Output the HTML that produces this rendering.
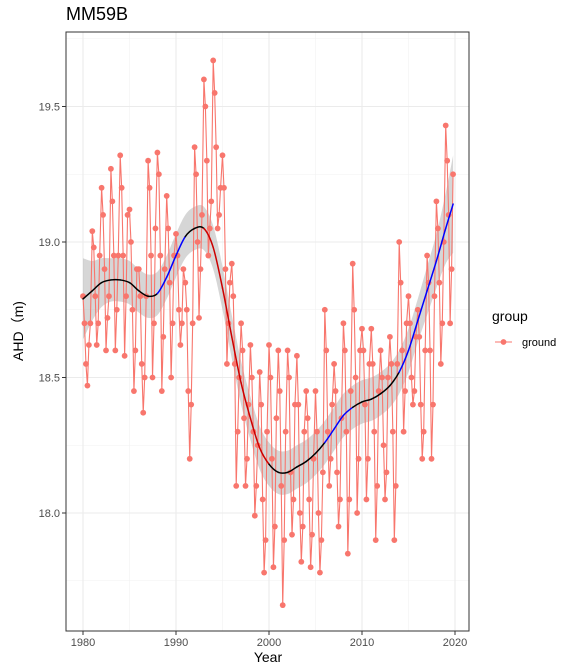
<!DOCTYPE html>
<html><head><meta charset="utf-8"><style>
body{margin:0;background:#fff;}
svg{display:block;font-family:"Liberation Sans","Noto Sans CJK SC",sans-serif;}
</style></head><body>
<svg id="c" width="576" height="672"></svg>
<script>
const years=[1980,1981,1982,1983,1984,1985,1986,1987,1988,1989,1990,1991,1992,1993,1994,1995,1996,1997,1998,1999,2000,2001,2002,2003,2004,2005,2006,2007,2008,2009,2010,2011,2012,2013,2014,2015,2016,2017,2018,2019];
const groundValues=[
18.80,18.70,18.55,18.47,18.62,18.70, 19.04,18.98,18.80,18.62,18.70,18.95, 19.20,19.10,18.90,18.60,18.72,18.80,
19.27,19.15,18.95,18.60,18.75,18.95, 19.32,19.20,18.95,18.58,18.80,19.10, 19.12,19.00,18.75,18.45,18.60,18.90,
18.90,18.80,18.55,18.37,18.50,18.80, 19.30,19.20,18.95,18.50,18.70,19.05, 19.33,19.25,18.95,18.45,18.65,18.90,
19.17,19.05,18.85,18.50,18.70,18.95, 19.03,18.95,18.75,18.62,18.70,18.90, 18.85,18.75,18.45,18.20,18.40,18.70,
19.35,19.25,19.00,18.72,18.90,19.10, 19.60,19.50,19.30,18.95,19.05,19.15, 19.67,19.55,19.35,19.05,19.10,19.20,
19.32,19.20,18.90,18.55,18.70,18.85, 18.92,18.80,18.55,18.10,18.30,18.50, 18.70,18.60,18.35,18.10,18.20,18.40,
18.62,18.50,18.30,17.99,18.10,18.25, 18.52,18.40,18.05,17.78,17.90,18.30, 18.62,18.50,18.20,17.80,17.95,18.35,
18.60,18.45,18.10,17.66,17.90,18.30, 18.60,18.50,18.15,17.92,18.05,18.40, 18.58,18.40,18.00,17.82,17.95,18.30,
18.45,18.35,18.05,17.80,17.92,18.20, 18.45,18.30,18.00,17.78,17.90,18.15, 18.75,18.60,18.30,18.10,18.20,18.40,
18.55,18.45,18.15,17.95,18.05,18.35, 18.70,18.60,18.30,17.85,18.05,18.45, 18.92,18.75,18.50,18.00,18.20,18.60,
18.68,18.60,18.40,18.05,18.20,18.55, 18.68,18.55,18.30,17.90,18.10,18.45, 18.60,18.50,18.25,18.05,18.15,18.50,
18.65,18.55,18.30,17.90,18.10,18.55, 19.00,18.85,18.60,18.30,18.45,18.70, 18.80,18.70,18.50,18.40,18.45,18.65,
18.75,18.65,18.40,18.20,18.30,18.60, 18.95,18.85,18.60,18.20,18.40,18.80, 19.15,19.05,18.85,18.55,18.70,19.00,
19.43,19.30,19.10,18.70,18.90,19.25];
const fitYears=[1980,1981,1982,1983,1984,1985,1986,1987,1988,1989,1990,1991,1992,1993,1994,1995,1996,1997,1998,1999,2000,2001,2002,2003,2004,2005,2006,2007,2008,2009,2010,2011,2012,2013,2014,2015,2016,2017,2018,2019,2019.8];
const fitValues=[18.79,18.82,18.85,18.86,18.86,18.85,18.82,18.80,18.81,18.87,18.95,19.02,19.05,19.05,18.98,18.83,18.65,18.48,18.35,18.24,18.18,18.15,18.15,18.17,18.19,18.22,18.26,18.31,18.36,18.39,18.41,18.42,18.44,18.47,18.52,18.60,18.71,18.82,18.93,19.05,19.14];
const fitSE=[0.15,0.11,0.09,0.08,0.08,0.08,0.08,0.08,0.08,0.08,0.08,0.08,0.08,0.08,0.08,0.08,0.08,0.08,0.08,0.08,0.08,0.08,0.08,0.08,0.08,0.08,0.08,0.08,0.08,0.08,0.08,0.08,0.08,0.08,0.08,0.08,0.08,0.09,0.10,0.13,0.18];
const segColors=['black','black','black','black','black','black','black','black','blue','blue','blue','black','black','red','red','red','red','red','red','red','black','black','black','black','black','black','blue','blue','blue','black','black','black','black','black','blue','blue','blue','blue','blue','blue'];
const xTicks=[1980,1990,2000,2010,2020];
const yTicks=[18.0,18.5,19.0,19.5];
const xMinor=[1985,1995,2005,2015];
const yMinor=[17.75,18.25,18.75,19.25,19.75];

const L=66,R=469,T=32,B=631;
const X=v=>83+(v-1980)*(455-83)/40;
const Y=v=>242-(v-19.0)*271;
const svg=document.getElementById('c');
const NS='http://www.w3.org/2000/svg';
function mk(tag,attrs,parent){const e=document.createElementNS(NS,tag);for(const k in attrs)e.setAttribute(k,attrs[k]);(parent||svg).appendChild(e);return e;}

const grid=mk('g',{});


xMinor.forEach(v=>mk('line',{x1:X(v),x2:X(v),y1:T,y2:B,stroke:'#f2f2f2','stroke-width':0.6},grid));
yMinor.forEach(v=>{if(Y(v)>T&&Y(v)<B)mk('line',{x1:L,x2:R,y1:Y(v),y2:Y(v),stroke:'#f2f2f2','stroke-width':0.6},grid);});
xTicks.forEach(v=>mk('line',{x1:X(v),x2:X(v),y1:T,y2:B,stroke:'#ebebeb','stroke-width':1.1},grid));
yTicks.forEach(v=>mk('line',{x1:L,x2:R,y1:Y(v),y2:Y(v),stroke:'#ebebeb','stroke-width':1.1},grid));

// catmull-rom helper
function pts(vals){return fitYears.map((y,i)=>[X(y),Y(vals[i])]);}
function seg(p,i){const p0=p[Math.max(i-1,0)],p1=p[i],p2=p[i+1],p3=p[Math.min(i+2,p.length-1)];
return [p1[0]+(p2[0]-p0[0])/6,p1[1]+(p2[1]-p0[1])/6,p2[0]-(p3[0]-p1[0])/6,p2[1]-(p3[1]-p1[1])/6,p2[0],p2[1]];}
function smoothPath(p,start){let d=(start?'M':'L')+p[0][0]+','+p[0][1];for(let i=0;i<p.length-1;i++)d+='C'+seg(p,i).join(',');return d;}

const upP=pts(fitValues.map((v,i)=>v+fitSE[i]));
const loP=pts(fitValues.map((v,i)=>v-fitSE[i])).reverse();
const rib=mk('path',{d:smoothPath(upP,true)+smoothPath(loP,false)+'Z',fill:'#999',opacity:0.4});



const ser=mk('g',{});


let d='';
const tOf=i=>years[Math.floor(i/6)]+(i%6)/6*0.95;
groundValues.forEach((v,i)=>{d+=(i?'L':'M')+X(tOf(i))+','+Y(v);});
mk('path',{d:d,fill:'none',stroke:'#F8766D','stroke-width':1.1},ser);
groundValues.forEach((v,i)=>{
const c=mk('circle',{cx:X(tOf(i)),cy:Y(v),r:2.9,fill:'#F8766D'},ser);

});

const tr=mk('g',{});


const fp=pts(fitValues);
for(let i=0;i<fp.length-1;i++){
const col=segColors[i]==='black'?'#000':segColors[i]==='blue'?'#0000ff':'#cc0000';
mk('path',{d:'M'+fp[i][0]+','+fp[i][1]+'C'+seg(fp,i).join(','),fill:'none',stroke:col,'stroke-width':1.5,'stroke-linecap':'round'},tr);}

const fr=mk('rect',{x:L,y:T,width:R-L,height:B-T,fill:'none',stroke:'#333','stroke-width':1});



xTicks.forEach(v=>{mk('line',{x1:X(v),x2:X(v),y1:B,y2:B+4,stroke:'#333'});
const t=mk('text',{x:X(v),y:B+15,'text-anchor':'middle','font-size':11,fill:'#4d4d4d'});t.textContent=v;

});
yTicks.forEach(v=>{mk('line',{x1:L-4,x2:L,y1:Y(v),y2:Y(v),stroke:'#333'});
const t=mk('text',{x:L-6,y:Y(v)+4,'text-anchor':'end','font-size':11,fill:'#4d4d4d'});t.textContent=v.toFixed(1);

});
</script>
<svg width="576" height="672" style="position:absolute;left:0;top:0">
<text x="66" y="20" font-size="18" fill="#000" font-family="Liberation Sans, sans-serif">MM59B</text>
<text x="268" y="662" font-size="14" text-anchor="middle" font-family="Liberation Sans, sans-serif">Year</text>
<text transform="translate(23,331) rotate(-90)" font-size="14" text-anchor="middle" font-family="Liberation Sans, 'Noto Sans CJK SC', sans-serif">AHD（m)</text>
<text x="492" y="321" font-size="14" font-family="Liberation Sans, sans-serif">group</text>
<g>
<line x1="495" x2="512" y1="342" y2="342" stroke="#F8766D" stroke-width="1.1"/>
<circle cx="503.5" cy="342" r="2.9" fill="#F8766D"/>
<text x="522" y="346" font-size="11" fill="#000" font-family="Liberation Sans, sans-serif">ground</text>
</g>
</svg>
</body></html>
